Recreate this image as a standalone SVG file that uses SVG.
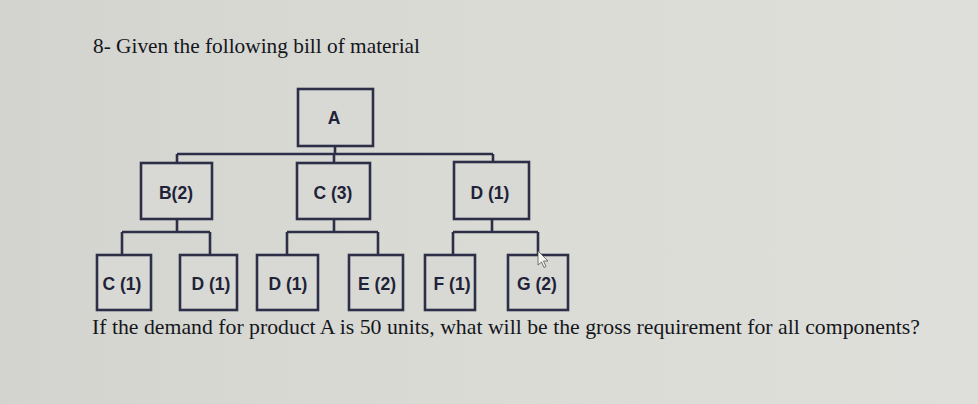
<svg xmlns="http://www.w3.org/2000/svg" width="978" height="404" viewBox="0 0 978 404">
  <defs>
    <linearGradient id="bg" x1="0" y1="0" x2="1" y2="0">
      <stop offset="0" stop-color="#d3d4cf"/>
      <stop offset="0.5" stop-color="#dadbd5"/>
      <stop offset="1" stop-color="#dedfda"/>
    </linearGradient>
  </defs>
  <style>
    .box { fill: #d8d9d4; stroke: #2c2f47; stroke-width: 2.6; }
    .lbl { font-family: "Liberation Sans", Arial, sans-serif; font-size: 17.5px; font-weight: bold; fill: #1f2238; text-anchor: middle; }
    .line { fill: none; stroke: #2c2f47; stroke-width: 2.6; }
    .txt { font-family: "Liberation Serif", "Times New Roman", serif; font-size: 21px; fill: #15161c; }
  </style>
  <rect x="0" y="0" width="978" height="404" fill="url(#bg)"/>

  <text class="txt" x="93" y="53" textLength="327" lengthAdjust="spacingAndGlyphs">8- Given the following bill of material</text>

  <g id="connectors">
    <path class="line" d="M335 146 V154 M177 154 H493 M177 154 V163 M334 154 V163 M493 154 V162"/>
    <path class="line" d="M177 219 V232 M122 232 H210 M122 232 V255 M210 232 V255"/>
    <path class="line" d="M334 219 V232 M287 232 H378 M287 232 V255 M378 232 V255"/>
    <path class="line" d="M492 219 V232 M453 232 H538 M453 232 V255 M538 232 V255"/>
  </g>

  <g id="node-A"><rect class="box" x="298" y="89" width="75" height="57"/><text class="lbl" x="334" y="124">A</text></g>
  <g id="node-B"><rect class="box" x="141" y="163" width="71" height="56"/><text class="lbl" x="176" y="199">B(2)</text></g>
  <g id="node-C"><rect class="box" x="297" y="163" width="73" height="56"/><text class="lbl" x="333" y="199">C (3)</text></g>
  <g id="node-D"><rect class="box" x="454" y="162" width="75" height="57"/><text class="lbl" x="490" y="199">D (1)</text></g>

  <g id="node-C1"><rect class="box" x="97" y="255" width="54" height="55"/><text class="lbl" x="122" y="290">C (1)</text></g>
  <g id="node-D1a"><rect class="box" x="180" y="255" width="57" height="55"/><text class="lbl" x="211" y="290">D (1)</text></g>
  <g id="node-D1b"><rect class="box" x="257" y="255" width="61" height="55"/><text class="lbl" x="288" y="290">D (1)</text></g>
  <g id="node-E2"><rect class="box" x="349" y="255" width="54" height="55"/><text class="lbl" x="377" y="290">E (2)</text></g>
  <g id="node-F1"><rect class="box" x="425" y="255" width="50" height="55"/><text class="lbl" x="452" y="290">F (1)</text></g>
  <g id="node-G2"><rect class="box" x="508" y="255" width="60" height="55"/><text class="lbl" x="537" y="290">G (2)</text></g>

  <path d="M538 251 L538 265 L541.5 262 L544 267.5 L546 266.5 L543.5 261 L548 261 Z" fill="#f4f4f2" stroke="#555" stroke-width="0.8"/>

  <text class="txt" x="92" y="334" textLength="828" lengthAdjust="spacingAndGlyphs">If the demand for product A is 50 units, what will be the gross requirement for all components?</text>
</svg>
